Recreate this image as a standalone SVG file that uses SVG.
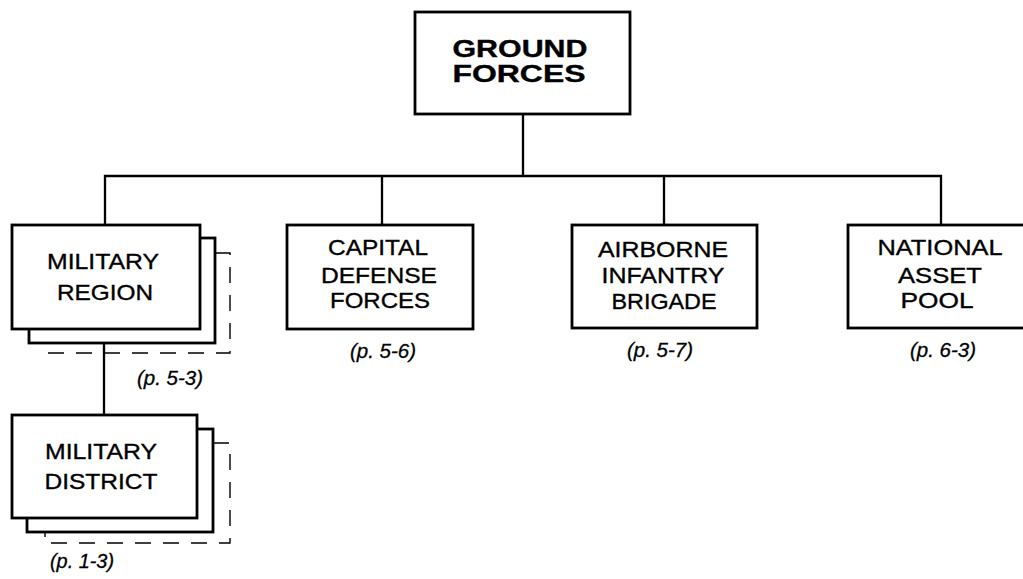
<svg xmlns="http://www.w3.org/2000/svg" width="1023" height="579" viewBox="0 0 1023 579">
<style>
.box{fill:#fff;stroke:#000;stroke-width:2.8}
.dash{fill:none;stroke:#000;stroke-width:1.4;stroke-dasharray:16 12}
.conn{fill:none;stroke:#000;stroke-width:2.3}
text{font-family:"Liberation Sans",Arial,sans-serif;fill:#000;text-anchor:middle;stroke:#000;stroke-width:0.35}
.t{font-size:22px}
.b{font-size:23px;font-weight:bold}
.p{font-size:20px;font-style:italic;stroke-width:0.3}
</style>
<rect width="1023" height="579" fill="#fff"/>
<g id="connectors">
<line class="conn" x1="523" y1="114" x2="523" y2="176"/>
<polyline class="conn" points="105,225 105,176 941,176 941,225"/>
<line class="conn" x1="382" y1="176" x2="382" y2="225"/>
<line class="conn" x1="664" y1="176" x2="664" y2="225"/>
<line class="conn" x1="104" y1="343" x2="104" y2="415"/>
</g>
<g id="ground-forces">
<rect class="box" x="415" y="12" width="215" height="102"/>
<text class="b" x="520" y="57" textLength="135" lengthAdjust="spacingAndGlyphs">GROUND</text>
<text class="b" x="519" y="82" textLength="133" lengthAdjust="spacingAndGlyphs">FORCES</text>
</g>
<g id="military-region">
<rect class="dash" x="48" y="253" width="182" height="100"/>
<rect class="box" x="29" y="238" width="186" height="105"/>
<rect class="box" x="12" y="225" width="188" height="104"/>
<text class="t" x="103" y="269" textLength="112" lengthAdjust="spacingAndGlyphs">MILITARY</text>
<text class="t" x="105" y="300" textLength="96" lengthAdjust="spacingAndGlyphs">REGION</text>
<text class="p" x="170" y="385" textLength="66" lengthAdjust="spacingAndGlyphs">(p. 5-3)</text>
</g>
<g id="military-district">
<rect class="dash" x="45" y="443" width="185" height="100"/>
<rect class="box" x="27" y="429" width="186" height="103"/>
<rect class="box" x="12" y="415" width="185" height="103"/>
<text class="t" x="101" y="459" textLength="112" lengthAdjust="spacingAndGlyphs">MILITARY</text>
<text class="t" x="101" y="489" textLength="113" lengthAdjust="spacingAndGlyphs">DISTRICT</text>
<text class="p" x="82" y="568" textLength="64" lengthAdjust="spacingAndGlyphs">(p. 1-3)</text>
</g>
<g id="capital-defense-forces">
<rect class="box" x="287" y="225" width="186" height="104"/>
<text class="t" x="378" y="255" textLength="100" lengthAdjust="spacingAndGlyphs">CAPITAL</text>
<text class="t" x="379" y="283" textLength="116" lengthAdjust="spacingAndGlyphs">DEFENSE</text>
<text class="t" x="380" y="308" textLength="100" lengthAdjust="spacingAndGlyphs">FORCES</text>
<text class="p" x="383" y="358" textLength="66" lengthAdjust="spacingAndGlyphs">(p. 5-6)</text>
</g>
<g id="airborne-infantry-brigade">
<rect class="box" x="572" y="225" width="185" height="103"/>
<text class="t" x="663" y="257" textLength="130" lengthAdjust="spacingAndGlyphs">AIRBORNE</text>
<text class="t" x="663" y="283" textLength="123" lengthAdjust="spacingAndGlyphs">INFANTRY</text>
<text class="t" x="664" y="309" textLength="105" lengthAdjust="spacingAndGlyphs">BRIGADE</text>
<text class="p" x="660" y="357" textLength="66" lengthAdjust="spacingAndGlyphs">(p. 5-7)</text>
</g>
<g id="national-asset-pool">
<rect class="box" x="848" y="225" width="186" height="103"/>
<text class="t" x="940" y="255" textLength="125" lengthAdjust="spacingAndGlyphs">NATIONAL</text>
<text class="t" x="940" y="283" textLength="84" lengthAdjust="spacingAndGlyphs">ASSET</text>
<text class="t" x="937" y="308" textLength="73" lengthAdjust="spacingAndGlyphs">POOL</text>
<text class="p" x="943" y="357" textLength="66" lengthAdjust="spacingAndGlyphs">(p. 6-3)</text>
</g>
</svg>
